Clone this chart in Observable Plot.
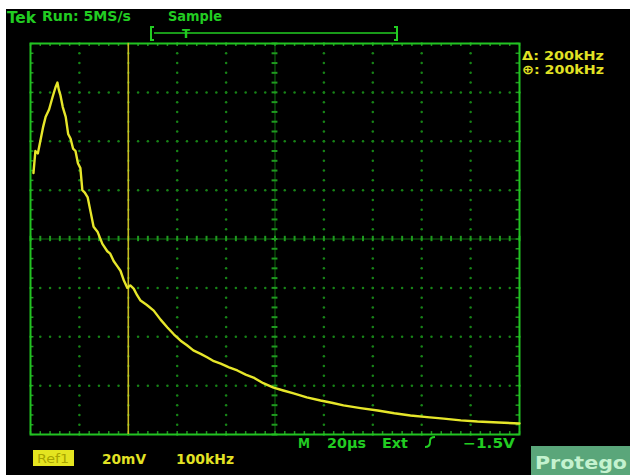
<!DOCTYPE html>
<html>
<head>
<meta charset="utf-8">
<script src="https://cdn.jsdelivr.net/npm/d3@7"></script>
<script src="https://cdn.jsdelivr.net/npm/@observablehq/plot@0.6"></script>
<style>
  html, body { margin: 0; padding: 0; background: #ffffff; }
  #wrap { position: relative; width: 630px; height: 475px; overflow: hidden; }
  #chart { position: absolute; left: 6px; top: 9px; }
  #chart svg { background: #000000; display: block; }
</style>
</head>
<body>
<div id="wrap"><div id="chart"></div></div>
<script>
// Reference trace (Ref1): frequency in kHz, amplitude in mV (20 mV/div, 100 kHz/div)
const freqKHz = [6, 10, 15, 20, 26, 31, 38, 45, 51, 55, 58, 61, 66, 72, 77, 82, 87, 92, 97, 102, 106, 111, 117, 123, 129, 137, 147, 157, 163, 170, 177, 184, 191, 198, 204, 211, 218, 225, 238, 252, 266, 280, 293, 307, 320, 333, 348, 362, 375, 389, 406, 423, 440, 456, 476, 497, 517, 538, 565, 593, 616, 640, 675, 710, 744, 777, 811, 845, 880, 914, 957, 1000];
const ampMV   = [107, 116, 115, 120, 126, 130, 133, 138, 142, 144, 141, 139, 134, 130, 123, 121, 117, 116, 111, 109, 100, 99, 97, 91, 85, 83, 78, 75, 74, 71, 69, 67, 63, 60, 61, 59.7, 57, 54.8, 53, 50.7, 47, 43.8, 41, 38.4, 36.5, 34.4, 33, 31.5, 30, 29, 27.5, 26.2, 24.5, 23.3, 21, 19.2, 18, 16.8, 15.2, 13.9, 13, 11.9, 10.8, 9.8, 8.7, 7.8, 7.1, 6.5, 5.8, 5.3, 4.9, 4.5];
const cursorKHz = [200];

// Screen graticule: 10 x 8 divisions
const xDivs = d3.range(0, 1001, 100);
const yDivs = d3.range(0, 161, 20);
const xMinor = d3.range(0, 1001, 20);
const yMinor = d3.range(0, 161, 4);

const trace = freqKHz.map((f, i) => ({f, v: ampMV[i]}));

const gridDots = [];
for (const x of xDivs) if (x !== 0 && x !== 1000 && x !== 500) for (const y of yMinor) gridDots.push({x, y});
for (const y of yDivs) if (y !== 0 && y !== 160 && y !== 80) for (const x of xMinor) gridDots.push({x, y});

const green = "#22c322";
const dimGreen = "#178417";

const plot = Plot.plot({
  width: 624,
  height: 466,
  marginLeft: 24,
  marginTop: 34,
  marginRight: 111,
  marginBottom: 41,
  x: {domain: [0, 1000], axis: null},
  y: {domain: [0, 160], axis: null},
  style: {background: "#000"},
  marks: [
    Plot.dot(gridDots, {x: "x", y: "y", r: 1.25, fill: dimGreen, stroke: "none"}),
    // center cross lines
    Plot.ruleX([500], {stroke: "#0f6a0f", strokeWidth: 1}),
    Plot.ruleY([80], {stroke: "#0f6a0f", strokeWidth: 1}),
    Plot.ruleX(xMinor, {x: d => d, y1: 80 - 1.1, y2: 80 + 1.1, stroke: "#1f9a1f", strokeWidth: 2}),
    Plot.ruleY(yMinor, {y: d => d, x1: 500 - 6, x2: 500 + 6, stroke: "#1f9a1f", strokeWidth: 2}),
    // border ticks
    Plot.ruleX(xMinor, {x: d => d, y1: 160, y2: 160 - 1.2, stroke: "#1f9a1f", strokeWidth: 1.5}),
    Plot.ruleX(xMinor, {x: d => d, y1: 0, y2: 1.2, stroke: "#1f9a1f", strokeWidth: 1.5}),
    Plot.ruleY(yMinor, {y: d => d, x1: 0, x2: 7, stroke: "#1f9a1f", strokeWidth: 1.5}),
    Plot.ruleY(yMinor, {y: d => d, x1: 1000, x2: 993, stroke: "#1f9a1f", strokeWidth: 1.5}),
    Plot.frame({stroke: green, strokeWidth: 2}),
    // cursor
    Plot.ruleX(cursorKHz, {stroke: "#c9bd22", strokeWidth: 1.6}),
    // trace
    Plot.line(trace, {x: "f", y: "v", stroke: "#e6e62a", strokeWidth: 2.4, curve: "linear"})
  ]
});
document.getElementById("chart").appendChild(plot);

// Screen annotations, in page coordinates
const svg = d3.select(plot);
const g = svg.append("g").attr("transform", "translate(-6,-9)")
  .attr("text-anchor", "start")
  .style("font-family", "'DejaVu Sans Condensed', 'DejaVu Sans', sans-serif")
  .style("font-weight", "bold");

function txt(s, x, y, size, fill, len) {
  const t = g.append("text").attr("x", x).attr("y", y).attr("font-size", size).attr("fill", fill)
    .attr("text-anchor", "start").text(s);
  if (len) t.attr("textLength", len).attr("lengthAdjust", "spacingAndGlyphs");
  return t;
}
const tGreen = "#22cc22";
const tYellow = "#e2e224";

txt("Tek", 7, 23, 16.5, tGreen, 29);
txt("Run: 5MS/s", 42, 21, 14, tGreen, 89);
txt("Sample", 168, 21, 14, tGreen, 54);
// trigger position bar
g.append("path").attr("d", "M154,27 L151,27 L151,40 L154,40").attr("fill", "none").attr("stroke", tGreen).attr("stroke-width", 2);
g.append("line").attr("x1", 154).attr("x2", 397).attr("y1", 33).attr("y2", 33).attr("stroke", tGreen).attr("stroke-width", 1.5);
g.append("path").attr("d", "M394,27 L397,27 L397,40 L394,40").attr("fill", "none").attr("stroke", tGreen).attr("stroke-width", 2);
txt("T", 182, 38, 13, tGreen, 8);

txt("Δ: 200kHz", 522, 60, 13, tYellow, 82);
txt("⊕: 200kHz", 522, 74, 13, tYellow, 82);

// bottom readouts
g.append("rect").attr("x", 33).attr("y", 450).attr("width", 41).attr("height", 16).attr("fill", "#e4e420");
txt("Ref1", 37, 463, 12, "#a8a400", 32).style("font-weight", "normal");
txt("20mV", 102, 464, 14, tYellow, 44);
txt("100kHz", 176, 464, 14, tYellow, 58);

txt("M", 298, 448, 14, tGreen, 12);
txt("20µs", 327, 448, 14, tGreen, 39);
txt("Ext", 382, 448, 14, tGreen, 26);
g.append("path").attr("d", "M425,447 Q430,447 430,442 L430,441 Q430,437 435,437").attr("fill", "none").attr("stroke", tGreen).attr("stroke-width", 2);
txt("−1.5V", 463, 448, 14, tGreen, 52);

g.append("rect").attr("x", 531).attr("y", 446).attr("width", 99).attr("height", 29).attr("fill", "#5aa67a");
txt("Protego", 535, 469, 18, "#c4f2cf", 92).style("font-family", "'DejaVu Sans', sans-serif");
</script>
</body>
</html>
